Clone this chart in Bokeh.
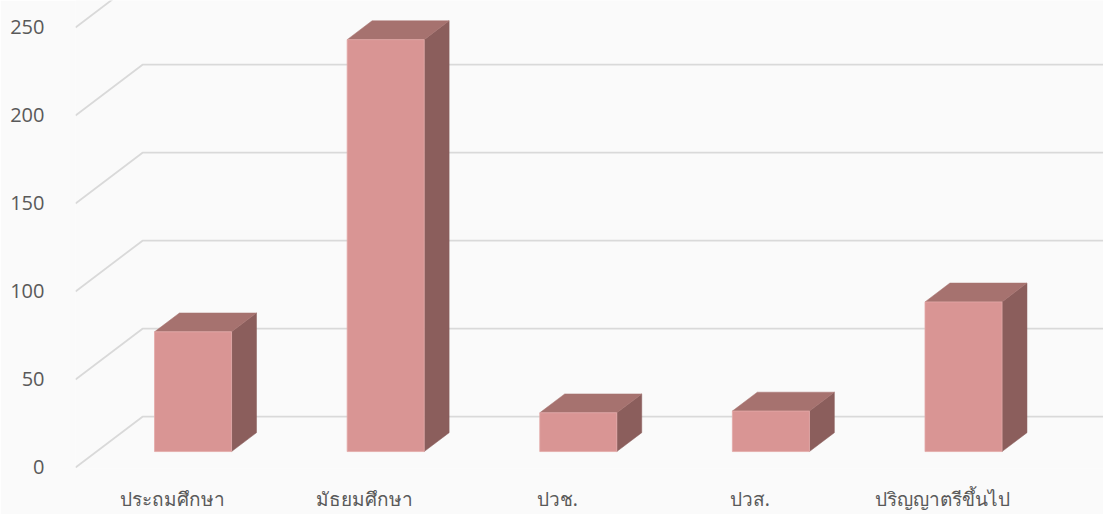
from bokeh.plotting import figure
from bokeh.models import Range1d, FixedTicker
from bokeh.embed import file_html
from bokeh.resources import INLINE

# ---- data ----
categories = ["ประถมศึกษา", "มัธยมศึกษา", "ปวช.", "ปวส.", "ปริญญาตรีขึ้นไป"]
values = [68, 234, 22, 23, 85]
y_ticks = [0, 50, 100, 150, 200, 250]

# ---- 3D geometry (in data units) ----
DEPTH_X = 0.348   # floor/wall depth in category units
DEPTH_Y = 28.85   # floor/wall depth in value units
F0, F1 = 0.314, 0.686   # bar front / back depth fractions
HALF_W = 0.2

x_start, x_end = -0.501, 4.836
y_start, y_end = -0.57, 265.3

FRONT = "#D99594"
TOP = "#A6726F"
SIDE = "#8B5E5C"
GRID = "#D9D9D9"
TEXT = "#595959"
BG = "#FAFAFA"

p = figure(width=1103, height=514,
           x_range=Range1d(x_start, x_end), y_range=Range1d(y_start, y_end),
           output_backend="svg", toolbar_location=None,
           min_border_left=75, min_border_right=0, min_border_top=0, min_border_bottom=44,
           background_fill_color=BG, border_fill_color=BG, outline_line_color=None)

p.xgrid.visible = False
p.ygrid.visible = False

# gridlines: diagonal on side wall + horizontal on back wall
gxs, gys = [], []
for t in y_ticks:
    gxs.append([x_start, x_start + DEPTH_X, x_end + 1])
    gys.append([t, t + DEPTH_Y, t + DEPTH_Y])
p.multi_line(gxs, gys, line_color=GRID, line_width=1.8)

# bars
ddx = (F1 - F0) * DEPTH_X
ddy = (F1 - F0) * DEPTH_Y
lefts, rights, bottoms, tops = [], [], [], []
side_xs, side_ys, top_xs, top_ys = [], [], [], []
for i, v in enumerate(values):
    c = i + F0 * DEPTH_X
    xl, xr = c - HALF_W, c + HALF_W
    yb = F0 * DEPTH_Y
    yt = yb + v
    lefts.append(xl); rights.append(xr); bottoms.append(yb); tops.append(yt)
    side_xs.append([xr, xr + ddx, xr + ddx, xr])
    side_ys.append([yb, yb + ddy, yt + ddy, yt])
    top_xs.append([xl, xr, xr + ddx, xl + ddx])
    top_ys.append([yt, yt, yt + ddy, yt + ddy])

p.patches(side_xs, side_ys, fill_color=SIDE, line_color=SIDE, line_width=0.5)
p.patches(top_xs, top_ys, fill_color=TOP, line_color=TOP, line_width=0.5)
p.quad(left=lefts, right=rights, bottom=bottoms, top=tops,
       fill_color=FRONT, line_color="#E3A9A8", line_width=0.8)

# axes
p.yaxis.ticker = FixedTicker(ticks=y_ticks)
p.yaxis.axis_line_color = None
p.yaxis.major_tick_line_color = None
p.yaxis.minor_tick_line_color = None
p.yaxis.major_label_standoff = 25
p.yaxis.major_label_text_font = "Open Sans"
p.yaxis.major_label_text_font_size = "20px"
p.yaxis.major_label_text_color = TEXT

p.xaxis.ticker = FixedTicker(ticks=list(range(len(categories))))
p.xaxis.major_label_overrides = {i: c for i, c in enumerate(categories)}
p.xaxis.axis_line_color = None
p.xaxis.major_tick_line_color = None
p.xaxis.minor_tick_line_color = None
p.xaxis.major_label_standoff = 11
p.xaxis.major_label_text_font = "Noto Sans"
p.xaxis.major_label_text_font_size = "19px"
p.xaxis.major_label_text_color = TEXT

open("out.html", "w").write(file_html(p, INLINE))
